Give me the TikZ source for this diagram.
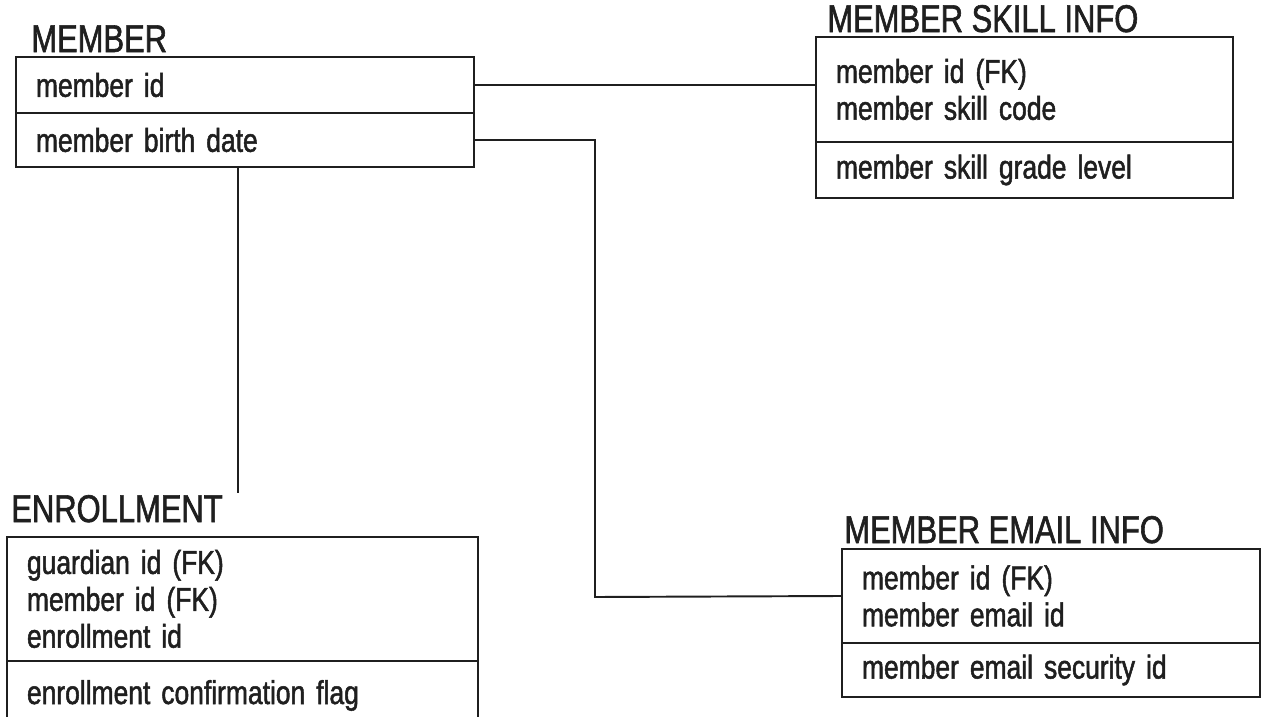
\documentclass[tikz,border=0pt]{standalone}
\usepackage{fontspec}
\setmainfont{Liberation Sans}[FakeStretch=0.8,FakeBold=1.5]
\usepackage{xcolor}
\usepackage{tikz}
\usetikzlibrary{positioning}
\definecolor{ink}{HTML}{1F1F1F}
\tikzset{
  entitle/.style={anchor=base west,inner sep=0pt,text=ink,
                  font=\fontsize{22}{26}\selectfont},
  keybox/.style={draw=ink,line width=1.1pt,anchor=north west,outer sep=0pt,
                 inner xsep=0.4cm,inner ysep=0pt,align=left,text=ink,
                 font=\fontsize{18.8}{21}\selectfont},
  link/.style={draw=ink,line width=1.1pt},
}

\begin{document}
\begin{tikzpicture}[x=0.02cm,y=-0.02cm]
  % page = 1262 x 717 px, one unit = one px
  \useasboundingbox (0,0) rectangle (1262,717);

  % MEMBER
  \node[entitle] (mtitle) at (31,52) {MEMBER};
  \node[keybox,text width=8.36cm,minimum height=1.12cm] (mkey) at (16,57)
    {member id};
  \node[keybox,text width=8.36cm,minimum height=1.08cm] (mattr)
    at (mkey.south west) {member birth date};

  % MEMBER SKILL INFO
  \node[entitle] (stitle) at (827,32) {MEMBER SKILL INFO};
  \node[keybox,text width=7.54cm,minimum height=2.10cm] (skey) at (816,37)
    {member id (FK)\\member skill code};
  \node[keybox,text width=7.54cm,minimum height=1.12cm] (sattr)
    at (skey.south west) {member skill grade level};

  % ENROLLMENT -- runs off the bottom edge
  \node[entitle] (ntitle) at (11,522) {ENROLLMENT};
  \node[keybox,text width=8.62cm,minimum height=2.48cm] (nkey) at (7,537)
    {guardian id (FK)\\member id (FK)\\enrollment id};
  \node[keybox,text width=8.62cm,minimum height=1.38cm] (nattr)
    at (nkey.south west) {enrollment confirmation flag};

  % MEMBER EMAIL INFO
  \node[entitle] (etitle) at (844,543) {MEMBER EMAIL INFO};
  \node[keybox,text width=7.56cm,minimum height=1.88cm] (ekey) at (842,549)
    {member id (FK)\\member email id};
  \node[keybox,text width=7.56cm,minimum height=1.08cm] (eattr)
    at (ekey.south west) {member email security id};

  % Connectors
  \coordinate (drop) at (238,493);
  \coordinate (elbow) at (595,597);
  \draw[link] (mkey.east) -- (mkey.east -| skey.west);
  \draw[link] (mattr.east) -| (elbow) -- (ekey.west);
  \draw[link] (mattr.south -| drop) -- (drop);
\end{tikzpicture}
\end{document}
